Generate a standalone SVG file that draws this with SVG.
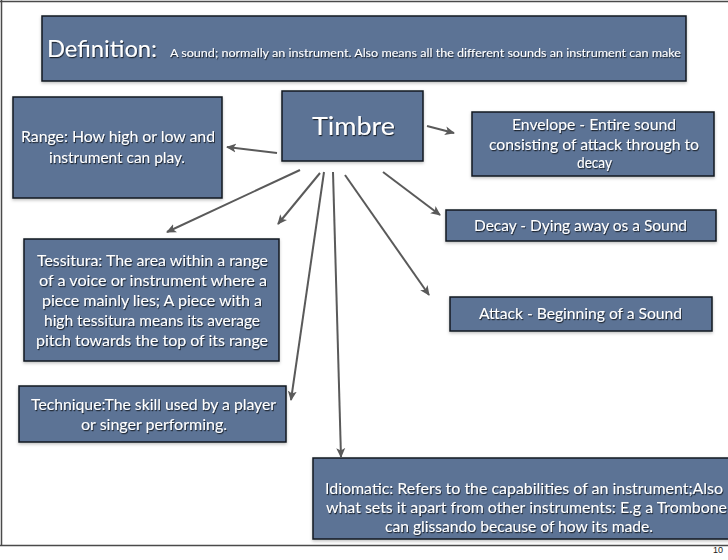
<svg xmlns="http://www.w3.org/2000/svg" width="728" height="560" viewBox="0 0 728 560">
<defs>
<style>
.box{fill:#5b7395;stroke:#15181f;stroke-width:1.5;filter:url(#bs)}
.t{font-family:Lato,"Open Sans","DejaVu Sans",sans-serif;fill:#ffffff;text-anchor:middle;filter:url(#ts)}
.s15{font-size:15px}
.con line{stroke:#5a5a5a;stroke-width:2;marker-end:url(#ah)}
</style>
<filter id="ts" x="-10%" y="-30%" width="120%" height="160%">
<feDropShadow dx="0.8" dy="1.2" stdDeviation="0.7" flood-color="#000" flood-opacity="0.7"/>
</filter>
<filter id="bs" x="-5%" y="-10%" width="110%" height="130%">
<feDropShadow dx="0" dy="1.5" stdDeviation="1.5" flood-color="#000" flood-opacity="0.25"/>
</filter>
<marker id="ah" viewBox="0 0 10 10" refX="9" refY="5" markerWidth="10" markerHeight="10" markerUnits="userSpaceOnUse" orient="auto">
<path d="M0,0.5 L10,5 L0,9.5 L2.5,5 Z" fill="#5a5a5a"/>
</marker>
</defs>
<rect x="0" y="0" width="728" height="560" fill="#ffffff"/>
<path d="M0,1.5 H728 M1.5,0 V546 M0,545.5 H728" stroke="#4a4a4a" stroke-width="1.5" fill="none"/>
<text x="718" y="553" font-family="'Liberation Sans',Arial,sans-serif" font-size="9" fill="#222" text-anchor="middle">10</text>

<g id="definition">
<rect class="box" x="42" y="16" width="644" height="65"/>
<text class="t" x="47" y="57" font-size="24" text-anchor="start" style="text-anchor:start" textLength="110" lengthAdjust="spacingAndGlyphs">Definition:</text>
<text class="t" x="170" y="57" font-size="11" style="text-anchor:start" textLength="511" lengthAdjust="spacingAndGlyphs">A sound; normally an instrument.  Also means all the different sounds an instrument can make</text>
</g>

<g id="timbre">
<rect class="box" x="282" y="91" width="141" height="70"/>
<text class="t" x="353.5" y="135" font-size="25" textLength="83" lengthAdjust="spacingAndGlyphs">Timbre</text>
</g>

<g id="range">
<rect class="box" x="13" y="97" width="209" height="101"/>
<text class="t s15" x="118" y="142" textLength="194" lengthAdjust="spacingAndGlyphs">Range: How high or low and</text>
<text class="t s15" x="117" y="163" textLength="136" lengthAdjust="spacingAndGlyphs">instrument can play.</text>
</g>

<g id="envelope">
<rect class="box" x="472" y="112" width="242" height="64"/>
<text class="t s15" x="594" y="130" textLength="164" lengthAdjust="spacingAndGlyphs">Envelope - Entire sound</text>
<text class="t s15" x="594" y="150" textLength="210" lengthAdjust="spacingAndGlyphs">consisting of attack through to</text>
<text class="t s15" x="594.5" y="168" textLength="35" lengthAdjust="spacingAndGlyphs">decay</text>
</g>

<g id="decay">
<rect class="box" x="446" y="210" width="270" height="31"/>
<text class="t s15" x="580.5" y="231" textLength="213" lengthAdjust="spacingAndGlyphs">Decay - Dying away os a Sound</text>
</g>

<g id="attack">
<rect class="box" x="450" y="297" width="262" height="34"/>
<text class="t s15" x="580.5" y="319" textLength="203" lengthAdjust="spacingAndGlyphs">Attack - Beginning of a Sound</text>
</g>

<g id="tessitura">
<rect class="box" x="24" y="239" width="255" height="122"/>
<text class="t s15" x="152.5" y="266" textLength="231" lengthAdjust="spacingAndGlyphs">Tessitura:  The area within a range</text>
<text class="t s15" x="153" y="286" textLength="228" lengthAdjust="spacingAndGlyphs">of a voice or instrument where a</text>
<text class="t s15" x="152" y="306" textLength="220" lengthAdjust="spacingAndGlyphs">piece mainly lies;  A piece with a</text>
<text class="t s15" x="152" y="326" textLength="216" lengthAdjust="spacingAndGlyphs">high tessitura means its average</text>
<text class="t s15" x="152" y="346" textLength="232" lengthAdjust="spacingAndGlyphs">pitch towards the top of its range</text>
</g>

<g id="technique">
<rect class="box" x="19" y="386" width="267" height="56"/>
<text class="t s15" x="153.5" y="410" textLength="245" lengthAdjust="spacingAndGlyphs">Technique:The skill used by a player</text>
<text class="t s15" x="154" y="430" textLength="146" lengthAdjust="spacingAndGlyphs">or singer performing.</text>
</g>

<g id="idiomatic">
<rect class="box" x="313" y="458" width="416" height="81"/>
<text class="t s15" x="524" y="494" textLength="398" lengthAdjust="spacingAndGlyphs">Idiomatic: Refers to the capabilities of an instrument;Also</text>
<text class="t s15" x="526.5" y="513" textLength="401" lengthAdjust="spacingAndGlyphs">what sets it apart from other instruments: E.g a Trombone</text>
<text class="t s15" x="519" y="532" textLength="268" lengthAdjust="spacingAndGlyphs">can glissando because of how its made.</text>
</g>

<g id="connectors" class="con">
<line x1="277" y1="153" x2="227" y2="147"/>
<line x1="427" y1="126" x2="454" y2="133"/>
<line x1="300" y1="170" x2="167" y2="232"/>
<line x1="320" y1="173" x2="278" y2="224"/>
<line x1="324" y1="172" x2="291" y2="400"/>
<line x1="333" y1="172" x2="341" y2="457"/>
<line x1="345" y1="175" x2="429" y2="295"/>
<line x1="383" y1="172" x2="440" y2="215"/>
</g>
</svg>
